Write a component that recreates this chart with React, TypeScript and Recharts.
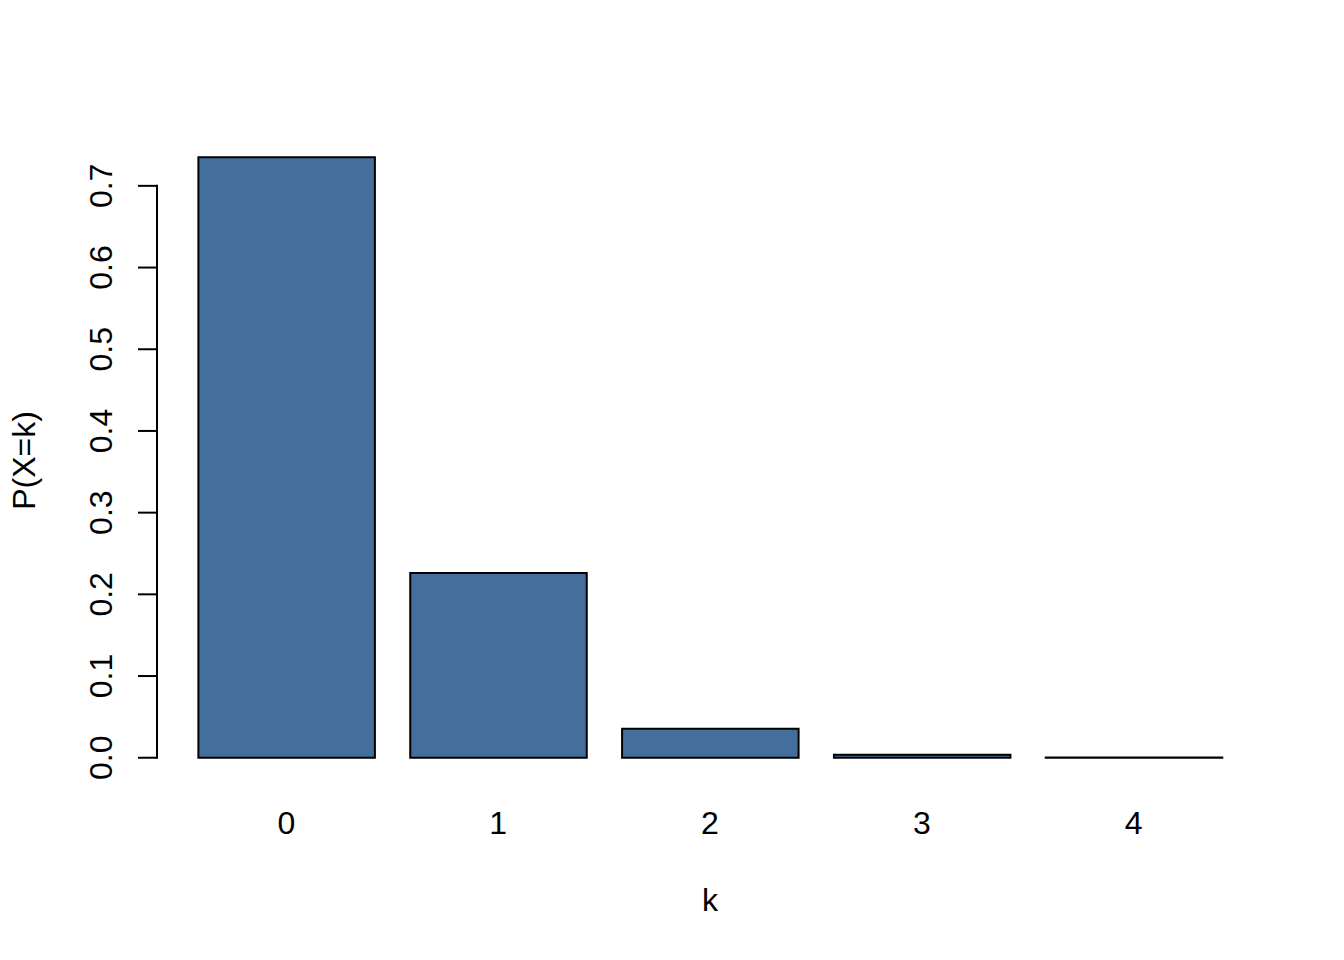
import React from "react";
import { BarChart, Bar, XAxis, YAxis, Label } from "recharts";

// P(X=k)
const kValues = ["0", "1", "2", "3", "4"];
const probs = [0.735, 0.226, 0.0355, 0.0037, 0.0003];
const yTicks = [0, 0.1, 0.2, 0.3, 0.4, 0.5, 0.6, 0.7];

const data = kValues.map((k, i) => ({ k, p: probs[i] }));

const W = 1344;
const H = 960;
const margin = { top: 133, right: 81, left: 57, bottom: 72 };
const Y_AXIS_W = 100;
const X_AXIS_H = 100;
const FONT = "'Liberation Sans', Arial, sans-serif";
const FS = 32;

// R style y range: small negative offset, then 4% extension on both ends
const hiVal = Math.max(...probs);
const loVal = -0.01 * hiVal;
const ext = (hiVal - loVal) * 0.04;
const yDomain = [loVal - ext, hiVal + ext];
const plotH = H - margin.top - margin.bottom - X_AXIS_H;
const pxPerUnit = plotH / (yDomain[1] - yDomain[0]);
const tickStep = 0.1 * pxPerUnit;

const YTick = (props: any) => {
  const { x, y, payload } = props;
  const v = payload.value as number;
  return (
    <g>
      <line x1={x} y1={y} x2={x - 19} y2={y} stroke="#000" strokeWidth={2} />
      {v > 0 && (
        <line x1={x} y1={y - 1} x2={x} y2={y + tickStep + 1} stroke="#000" strokeWidth={2} />
      )}
      <text
        x={x - 45}
        y={y}
        transform={`rotate(-90, ${x - 45}, ${y})`}
        textAnchor="middle"
        fontFamily={FONT}
        fontSize={FS}
        fill="#000"
      >
        {v.toFixed(1)}
      </text>
    </g>
  );
};

const XTick = (props: any) => {
  const { x, y, payload } = props;
  return (
    <text x={x} y={y + 46} textAnchor="middle" fontFamily={FONT} fontSize={FS} fill="#000">
      {payload.value}
    </text>
  );
};

export default function App() {
  return (
    <div style={{ position: "absolute", left: 0, top: 0, background: "#fff" }}>
      <BarChart width={W} height={H} data={data} margin={margin}>
        <XAxis
          dataKey="k"
          height={X_AXIS_H}
          axisLine={false}
          tickLine={false}
          tickSize={0}
          tickMargin={0}
          padding={{ left: 23.4, right: 23.4 }}
          tick={<XTick />}
        >
          <Label
            content={(p: any) => {
              const vb = p.viewBox;
              return (
                <text
                  x={vb.x + vb.width / 2}
                  y={vb.y + 123}
                  textAnchor="middle"
                  fontFamily={FONT}
                  fontSize={FS}
                  fill="#000"
                >
                  k
                </text>
              );
            }}
          />
        </XAxis>
        <YAxis
          type="number"
          width={Y_AXIS_W}
          domain={yDomain}
          ticks={yTicks}
          allowDataOverflow
          axisLine={false}
          tickLine={false}
          tickSize={0}
          tickMargin={0}
          interval={0}
          tick={<YTick />}
        >
          <Label
            content={(p: any) => {
              const vb = p.viewBox;
              const cx = vb.x + vb.width - 122;
              const cy = vb.y + vb.height / 2;
              return (
                <text
                  x={cx}
                  y={cy}
                  transform={`rotate(-90, ${cx}, ${cy})`}
                  textAnchor="middle"
                  fontFamily={FONT}
                  fontSize={FS}
                  fill="#000"
                >
                  P(X=k)
                </text>
              );
            }}
          />
        </YAxis>
        <Bar
          dataKey="p"
          fill="#446E9B"
          stroke="#000"
          strokeWidth={2}
          barSize={176.5}
          isAnimationActive={false}
        />
      </BarChart>
    </div>
  );
}
